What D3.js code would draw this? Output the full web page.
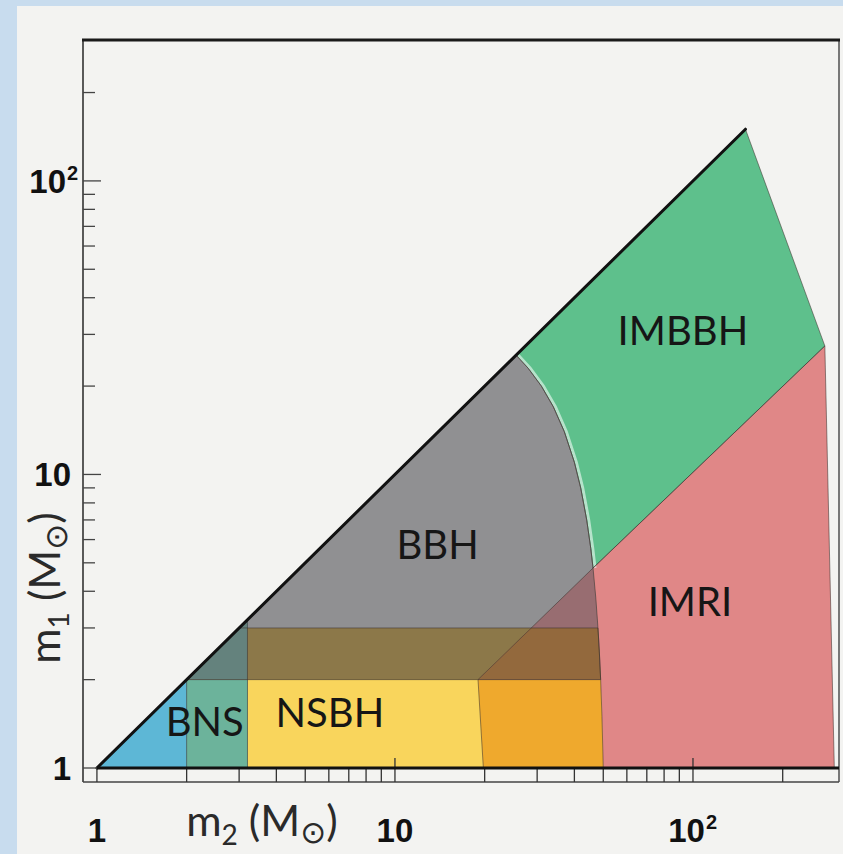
<!DOCTYPE html>
<html>
<head>
<meta charset="utf-8">
<script src="https://cdn.jsdelivr.net/npm/d3@7"></script>
<style>
  body { margin: 0; background: #c8dcee; }
  svg { display: block; }
</style>
</head>
<body>
<svg id="chart" width="843" height="854"></svg>
<script>
// ---- Axis ticks -----------------------------------------------------------
const majorTicks = [1, 10, 100];
const minorTicks = [2, 3, 4, 5, 6, 7, 8, 9, 20, 30, 40, 50, 60, 70, 80, 90, 200];
const xTickLabels = [{ v: 1, base: "1", sup: "" }, { v: 10, base: "10", sup: "" }, { v: 100, base: "10", sup: "2" }];
const yTickLabels = [{ v: 1, base: "1", sup: "" }, { v: 10, base: "10", sup: "" }, { v: 100, base: "10", sup: "2" }];

// ---- Region boundaries, vertices as [m2, m1] in solar masses --------------
const equalMassLine = [[1, 1], [150, 150]];
// edge of the total-mass cut, from the equal-mass line down to m1 = 1
const totalMassEdge = [[25.5, 25.5], [28, 23], [31, 20], [34, 17], [37, 14], [40, 11], [42, 9], [44, 7],
                       [45.4, 5.6], [46.2, 4.8], [47.2, 3.8], [48, 3], [48.5, 2.5], [49, 2], [49.5, 1.5], [50, 1]];
const bnsRegion = [[1, 1], [3.2, 3.2], [3.2, 1]];
const nsbhCorner = [[2, 1], [2, 2], [3, 3]];
const bbhCorner = [[2, 2]];
const imbbhCorner = [[150, 150], [277, 27.4]];
const imriRegion = [[19.8, 1], [19, 2], [46.2, 4.8], [277, 27.4], [298, 1]];

// ---- Region labels ---------------------------------------------------------
const regionLabels = [
  { name: "BNS", m2: 2.3, m1: 1.44 },
  { name: "NSBH", m2: 6.05, m1: 1.55 },
  { name: "BBH", m2: 13.9, m1: 5.75 },
  { name: "IMBBH", m2: 92.5, m1: 31 },
  { name: "IMRI", m2: 97.7, m1: 3.68 }
];

// Assemble closed outlines from the boundary pieces
const regions = {
  imri: imriRegion,
  imbbh: [...imbbhCorner, ...totalMassEdge.filter(p => p[1] >= 4.8).reverse()],
  bbh: [...bbhCorner, ...totalMassEdge.filter(p => p[1] >= 2)],
  nsbh: [...nsbhCorner, ...totalMassEdge.filter(p => p[1] <= 3)],
  bns: bnsRegion
};
const fills = { imri: "#e08787", imbbh: "#5ec08c", bbh: "#909092", nsbh: "#f9d55c", bns: "#5db7d6" };

// ---- Layout ----------------------------------------------------------------
const frame = { left: 83, right: 839, top: 40, bottom: 782 };
const x = d3.scaleLog().domain([0.898, 309]).range([frame.left, frame.right]);
const y = d3.scaleLog().domain([0.896, 302]).range([frame.bottom, frame.top]);

const svg = d3.select("#chart");
const defs = svg.append("defs");

// card behind the plot
svg.append("rect").attr("x", 17).attr("y", 6).attr("width", 826).attr("height", 848).attr("fill", "#f3f3f1");

const outline = d3.line().x(d => x(d[0])).y(d => y(d[1]));
const closed = pts => outline(pts) + "Z";

Object.entries(regions).forEach(([key, pts]) => {
  defs.append("clipPath").attr("id", "clip-" + key).append("path").attr("d", closed(pts));
});

const plot = svg.append("g");

// base fills
["imri", "imbbh", "bbh", "nsbh", "bns"].forEach(key => {
  plot.append("path").attr("d", closed(regions[key])).attr("fill", fills[key]);
});

// overlapping zones
const overlaps = [
  { a: "bns", b: ["nsbh"], color: "#6cb39b" },
  { a: "nsbh", b: ["bbh"], color: "#8c7849" },
  { a: "bns", b: ["bbh"], color: "#64827d" },
  { a: "nsbh", b: ["imri"], color: "#efa92d" },
  { a: "bbh", b: ["imri"], color: "#986d71" },
  { a: "nsbh", b: ["bbh", "imri"], color: "#93693d" }
];
overlaps.forEach(o => {
  let g = plot;
  o.b.slice(1).forEach(k => { g = g.append("g").attr("clip-path", `url(#clip-${k})`); });
  g.append("path").attr("d", closed(regions[o.a]))
    .attr("clip-path", `url(#clip-${o.b[0]})`)
    .attr("fill", o.color);
});

// soft highlight along the total-mass edge, then thin outlines
plot.append("path").attr("d", outline(totalMassEdge.filter(p => p[1] >= 4.8)))
  .attr("fill", "none").attr("stroke", "rgba(255,255,255,0.55)").attr("stroke-width", 3)
  .attr("transform", "translate(2,0)");
["imri", "imbbh", "bbh", "nsbh", "bns"].forEach(key => {
  plot.append("path").attr("d", closed(regions[key]))
    .attr("fill", "none").attr("stroke", "rgba(60,50,45,0.55)").attr("stroke-width", 1);
});

// equal-mass line
plot.append("path").attr("d", outline(equalMassLine))
  .attr("fill", "none").attr("stroke", "#111").attr("stroke-width", 3).attr("stroke-linecap", "round");

// ---- Frame -----------------------------------------------------------------
const axes = svg.append("g").attr("stroke-linecap", "butt");
axes.append("line").attr("x1", frame.left).attr("x2", frame.left).attr("y1", frame.top).attr("y2", frame.bottom)
  .attr("stroke", "#333").attr("stroke-width", 1.6);
axes.append("line").attr("x1", frame.right).attr("x2", frame.right).attr("y1", frame.top).attr("y2", frame.bottom)
  .attr("stroke", "#777").attr("stroke-width", 2);
axes.append("line").attr("x1", frame.left).attr("x2", frame.right).attr("y1", frame.bottom).attr("y2", frame.bottom)
  .attr("stroke", "#444").attr("stroke-width", 1.6);
axes.append("line").attr("x1", frame.left - 1).attr("x2", frame.right + 1).attr("y1", frame.top).attr("y2", frame.top)
  .attr("stroke", "#1a1a1a").attr("stroke-width", 3);

// x ticks sit in the strip below the m1 = 1 line
const allX = [...majorTicks, ...minorTicks];
axes.selectAll(".xt").data(allX).join("line")
  .attr("x1", d => x(d)).attr("x2", d => x(d))
  .attr("y1", y(1)).attr("y2", frame.bottom)
  .attr("stroke", "#333").attr("stroke-width", 1.3);
axes.selectAll(".xtm").data(majorTicks.filter(d => d > 1)).join("line")
  .attr("x1", d => x(d)).attr("x2", d => x(d))
  .attr("y1", y(1) - 10).attr("y2", y(1))
  .attr("stroke", "#333").attr("stroke-width", 1.3);

// y ticks point inward from the left edge
axes.selectAll(".yt").data(minorTicks).join("line")
  .attr("x1", frame.left).attr("x2", frame.left + 12)
  .attr("y1", d => y(d)).attr("y2", d => y(d))
  .attr("stroke", "#444").attr("stroke-width", 1.3);
axes.selectAll(".ytm").data(majorTicks).join("line")
  .attr("x1", frame.left).attr("x2", frame.left + 18)
  .attr("y1", d => y(d)).attr("y2", d => y(d))
  .attr("stroke", "#444").attr("stroke-width", 1.3);

// m1 = 1 baseline
axes.append("line").attr("x1", x(1)).attr("x2", frame.right).attr("y1", y(1)).attr("y2", y(1))
  .attr("stroke", "#111").attr("stroke-width", 3);

// ---- Tick labels -----------------------------------------------------------
const tickFont = "'Liberation Sans', Arial, sans-serif";
function tickText(px, py, str, size, anchor) {
  return svg.append("text").attr("font-family", tickFont).attr("font-weight", "bold")
    .attr("font-size", size).attr("fill", "#111")
    .attr("x", px).attr("y", py).attr("text-anchor", anchor).text(str);
}
yTickLabels.forEach(t => {
  if (t.sup) {
    tickText(66, y(t.v) + 12, t.base, 33, "end");
    tickText(67, y(t.v) - 1, t.sup, 20, "start");
  } else {
    tickText(71, y(t.v) + 12, t.base, 33, "end");
  }
});
xTickLabels.forEach(t => {
  if (t.sup) {
    tickText(x(t.v) + 12, 842, t.base, 33, "end");
    tickText(x(t.v) + 13, 829, t.sup, 20, "start");
  } else {
    tickText(x(t.v), 842, t.base, 33, "middle");
  }
});

// ---- Axis titles -----------------------------------------------------------
const titleFont = "Lato, 'Open Sans', sans-serif";
function axisTitle(sel, sub) {
  sel.append("tspan").text("m");
  sel.append("tspan").attr("font-size", 28).attr("dy", 9).text(sub);
  sel.append("tspan").attr("dy", -9).text(" (M");
  sel.append("tspan").attr("font-size", 31).attr("dy", 7).attr("font-family", "'DejaVu Sans', sans-serif").text("\u2299");
  sel.append("tspan").attr("dy", -7).text(")");
}
const xTitle = svg.append("text").attr("font-family", titleFont).attr("font-size", 43).attr("fill", "#2a2a2a")
  .attr("x", 262).attr("y", 836).attr("text-anchor", "middle");
axisTitle(xTitle, "2");
const yTitle = svg.append("text").attr("font-family", titleFont).attr("font-size", 43).attr("fill", "#2a2a2a")
  .attr("text-anchor", "middle").attr("transform", "translate(60,588) rotate(-90)");
axisTitle(yTitle, "1");

// ---- Region labels ---------------------------------------------------------
svg.append("g").selectAll("text").data(regionLabels).join("text")
  .attr("font-family", titleFont).attr("font-size", 40).attr("fill", "#161616")
  .attr("text-anchor", "middle").attr("dy", "0.36em")
  .attr("x", d => x(d.m2)).attr("y", d => y(d.m1)).text(d => d.name);
</script>
</body>
</html>
